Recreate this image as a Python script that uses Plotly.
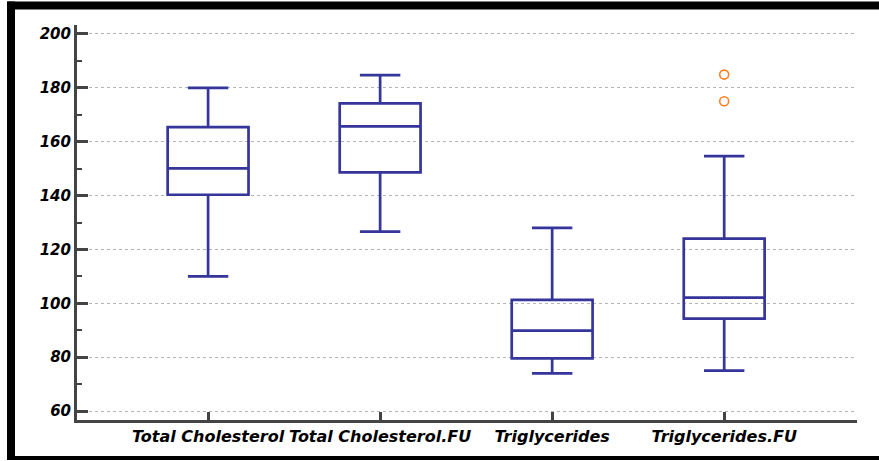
import plotly.graph_objects as go

categories = ["Total Cholesterol", "Total Cholesterol.FU", "Triglycerides", "Triglycerides.FU"]
lower_whisker = [110, 126.6, 74, 75]
q1_values = [140.3, 148.6, 79.6, 94.3]
median_values = [150.1, 165.7, 89.9, 102.1]
q3_values = [165.4, 174.2, 101.3, 124]
upper_whisker = [180, 184.7, 128, 154.6]
outlier_cats = ["Triglycerides.FU", "Triglycerides.FU"]
outlier_values = [184.9, 175]
y_ticks = [60, 80, 100, 120, 140, 160, 180, 200]

W, H = 879, 461
ML, MR, MT, MB = 77, 22, 25, 41
PW, PH = W - ML - MR, H - MT - MB

def px(x):
    return (x - ML) / PW

def py(y):
    return (H - MB - y) / PH

FAM = "DejaVu Sans, Liberation Sans, Arial, sans-serif"
xtickfont = dict(family=FAM, size=16, color="black", weight="bold", style="italic")
ytickfont = dict(family=FAM, size=15, color="black", weight="bold", style="italic")
BLUE = "#35359a"

fig = go.Figure()
fig.add_trace(go.Box(
    x=categories, q1=q1_values, median=median_values, q3=q3_values,
    lowerfence=lower_whisker, upperfence=upper_whisker,
    boxpoints=False, width=0.47, whiskerwidth=0.5,
    line=dict(color=BLUE, width=2.7), fillcolor="rgba(255,255,255,0)",
    hoverinfo="skip", showlegend=False,
))
fig.add_trace(go.Scatter(
    x=outlier_cats, y=outlier_values, mode="markers",
    marker=dict(symbol="circle-open", size=9, color="#ff7f27", line=dict(width=1.6)),
    showlegend=False, hoverinfo="skip",
))

shapes = [
    dict(type="rect", xref="paper", yref="paper", x0=px(7), x1=px(W + 5), y0=py(1.5), y1=py(9.5),
         fillcolor="black", line=dict(width=0), layer="above"),
    dict(type="rect", xref="paper", yref="paper", x0=px(7), x1=px(15), y0=py(1.5), y1=py(460),
         fillcolor="black", line=dict(width=0), layer="above"),
    dict(type="rect", xref="paper", yref="paper", x0=px(7), x1=px(W + 5), y0=py(456), y1=py(460),
         fillcolor="black", line=dict(width=0), layer="above"),
]

fig.update_layout(
    width=W, height=H,
    margin=dict(l=ML, r=MR, t=MT, b=MB, pad=0),
    paper_bgcolor="white", plot_bgcolor="white",
    font=dict(family=FAM, size=14, color="black"),
    shapes=shapes,
    xaxis=dict(
        type="category", categoryorder="array", categoryarray=categories,
        range=[-0.762, 3.772],
        showline=True, linecolor="#444", linewidth=3,
        ticks="inside", ticklen=8, tickwidth=2.5, tickcolor="#444",
        showgrid=False, zeroline=False,
        tickfont=xtickfont,
    ),
    yaxis=dict(
        range=[56.7, 203.3], tickvals=y_ticks,
        showline=True, linecolor="#444", linewidth=3,
        ticks="inside", ticklen=11, tickwidth=2.5, tickcolor="#444",
        minor=dict(dtick=10, tick0=60, ticks="inside", ticklen=5, tickwidth=2, tickcolor="#444", showgrid=False),
        showgrid=True, gridcolor="#b4b4b4", griddash="dot", gridwidth=1,
        zeroline=False,
        tickfont=ytickfont,
    ),
)

fig.write_html("out.html", config={"displayModeBar": False},
               post_script="document.body.style.margin='0';document.body.style.overflow='hidden';")
